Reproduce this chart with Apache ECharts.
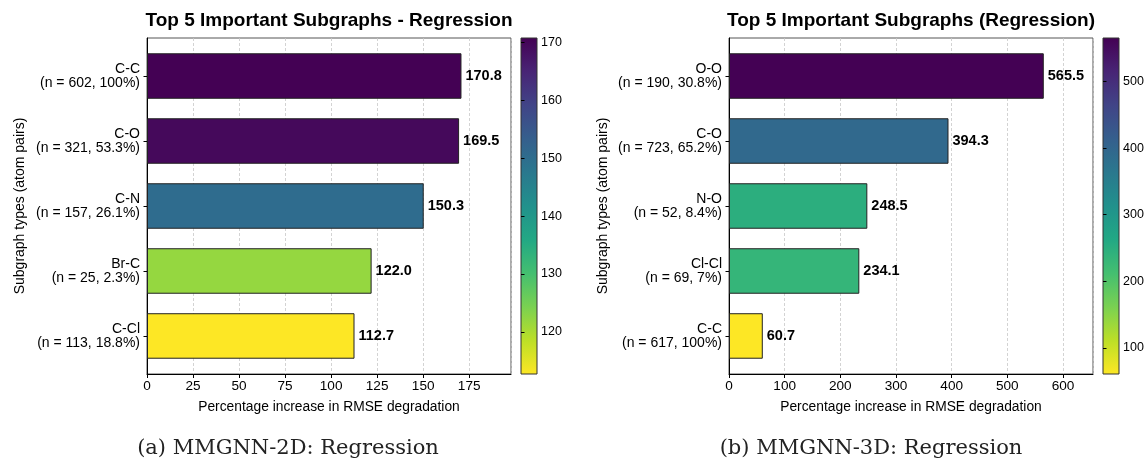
<!DOCTYPE html>
<html><head><meta charset="utf-8">
<script src="https://cdn.jsdelivr.net/npm/echarts@6/dist/echarts.min.js"></script>
<style>html,body{margin:0;padding:0;background:#fff}#c{width:1148px;height:462px}</style>
</head><body><div id="c"></div>
<script>
// ---- data ----
const leftPairs = ['C-C', 'C-O', 'C-N', 'Br-C', 'C-Cl'];
const leftCounts = [602, 321, 157, 25, 113];
const leftPct = ['100%', '53.3%', '26.1%', '2.3%', '18.8%'];
const leftValues = [170.8, 169.5, 150.3, 122.0, 112.7];
const leftXTicks = [0, 25, 50, 75, 100, 125, 150, 175];
const leftCbTicks = [120, 130, 140, 150, 160, 170];

const rightPairs = ['O-O', 'C-O', 'N-O', 'Cl-Cl', 'C-C'];
const rightCounts = [190, 723, 52, 69, 617];
const rightPct = ['30.8%', '65.2%', '8.4%', '7%', '100%'];
const rightValues = [565.5, 394.3, 248.5, 234.1, 60.7];
const rightXTicks = [0, 100, 200, 300, 400, 500, 600];
const rightCbTicks = [100, 200, 300, 400, 500];

const titles = ['Top 5 Important Subgraphs - Regression', 'Top 5 Important Subgraphs (Regression)'];
const captions = ['(a) MMGNN-2D: Regression', '(b) MMGNN-3D: Regression'];
const xTitle = 'Percentage increase in RMSE degradation';
const yTitle = 'Subgraph types (atom pairs)';

// ---- style ----
const FONT = 'Liberation Sans, Arial, Helvetica, sans-serif';
const viridis = ['#440154','#482475','#414487','#355f8d','#2a788e','#21918c','#22a884','#44bf70','#7ad151','#bddf26','#fde725'];
const viridisRev = viridis.slice().reverse();
const grad = {type:'linear', x:0, y:0, x2:0, y2:1,
  colorStops: viridis.map((c, i) => ({offset: i / (viridis.length - 1), color: c}))};

const panels = [
  {pairs: leftPairs, counts: leftCounts, pct: leftPct, values: leftValues, xTicks: leftXTicks, cbTicks: leftCbTicks,
   left: 147, right: 511, xMax: 197.7, cbLeft: 521, nameGap: 120},
  {pairs: rightPairs, counts: rightCounts, pct: rightPct, values: rightValues, xTicks: rightXTicks, cbTicks: rightCbTicks,
   left: 729, right: 1093, xMax: 653.9, cbLeft: 1103, nameGap: 119}
];

const TOP = 38, BOTTOM = 374, W = 1148, H = 462;
const unit = (BOTTOM - TOP) / 5.17;       // pixels per category step
const pad = 0.085 * unit;                 // outer margin beyond bands

const grid = [], xAxis = [], yAxis = [], series = [], visualMap = [];

panels.forEach((p, k) => {
  const g0 = grid.length;
  const interval = p.xTicks[1] - p.xTicks[0];
  grid.push({left: p.left, right: W - p.right, top: TOP, bottom: H - BOTTOM, show: true,
    borderColor: '#555', borderWidth: 1, backgroundColor: 'transparent', outerBoundsMode: 'none'});
  grid.push({left: p.left, right: W - p.right, top: TOP + pad, bottom: H - BOTTOM + pad, show: false, outerBoundsMode: 'none'});
  grid.push({left: p.cbLeft, width: 16, top: TOP, bottom: H - BOTTOM, show: true,
    backgroundColor: grad, borderColor: '#333', borderWidth: 1, outerBoundsMode: 'none'});

  xAxis.push({gridIndex: g0, type: 'value', min: 0, max: p.xMax, interval: interval,
    axisLine: {show: true, lineStyle: {color: '#000', width: 1}},
    axisTick: {show: true, length: 4, lineStyle: {color: '#000', width: 1}},
    axisLabel: {show: true, margin: 5, fontSize: 13.6, color: '#000', fontFamily: FONT, showMaxLabel: false,
      formatter: v => (p.xTicks.indexOf(v) >= 0 ? String(v) : '')},
    splitLine: {show: true, lineStyle: {color: '#c8c8c8', type: [3, 2], width: 0.8}},
    name: xTitle, nameLocation: 'middle', nameGap: 26,
    nameTextStyle: {fontSize: 13.8, color: '#000', fontFamily: FONT}});
  xAxis.push({gridIndex: g0 + 1, type: 'value', min: 0, max: p.xMax, show: false});
  xAxis.push({gridIndex: g0 + 2, type: 'value', min: 0, max: 1, show: false});

  yAxis.push({gridIndex: g0, type: 'value', min: 0, max: 1,
    axisLine: {show: true, lineStyle: {color: '#000', width: 1}},
    axisTick: {show: false}, axisLabel: {show: false}, splitLine: {show: false}});
  const cats = p.pairs.map((s, i) => s + '\n(n = ' + p.counts[i] + ', ' + p.pct[i] + ')');
  yAxis.push({gridIndex: g0 + 1, type: 'category', data: cats, inverse: true,
    axisLine: {show: false},
    axisTick: {show: true, length: 3.5, alignWithLabel: true, lineStyle: {color: '#000', width: 1}},
    axisLabel: {margin: 7, fontSize: 14, lineHeight: 14, color: '#000', fontFamily: FONT, align: 'right'},
    splitLine: {show: false},
    name: yTitle, nameLocation: 'middle', nameGap: p.nameGap, nameRotate: 90,
    nameTextStyle: {fontSize: 14, color: '#000', fontFamily: FONT}});
  const vmin = Math.min.apply(null, p.values), vmax = Math.max.apply(null, p.values);
  yAxis.push({gridIndex: g0 + 2, type: 'value', position: 'right', min: vmin, max: vmax,
    axisLine: {show: false}, splitLine: {show: false},
    axisTick: {show: true, length: 3.5, customValues: p.cbTicks, lineStyle: {color: '#000', width: 1}},
    axisLabel: {show: true, margin: 4, customValues: p.cbTicks, fontSize: 12.5, color: '#000', fontFamily: FONT}});

  series.push({type: 'bar', xAxisIndex: g0 + 1, yAxisIndex: g0 + 1,
    data: p.values.map((v, i) => [v, i]), encode: {x: 0, y: 1},
    barWidth: 0.7 * unit,
    itemStyle: {borderColor: '#222', borderWidth: 1},
    label: {show: true, position: 'right', distance: 4, formatter: q => q.value[0].toFixed(1),
      fontWeight: 'bold', fontSize: 14.5, color: '#000', fontFamily: FONT},
    animation: false});
  visualMap.push({type: 'continuous', show: false, seriesIndex: k, dimension: 0, min: vmin, max: vmax,
    inRange: {color: viridisRev}});
});

const graphic = [];
panels.forEach((p, k) => {
  graphic.push({type: 'text', x: (p.left + p.right) / 2, y: 21, silent: true,
    style: {text: titles[k], fontSize: 19, fontWeight: 'bold', fontFamily: FONT, fill: '#000', align: 'center', verticalAlign: 'middle'}});
});
graphic.push({type: 'text', x: 288, y: 449, silent: true,
  style: {text: captions[0], fontSize: 21, fontFamily: 'DejaVu Serif, Liberation Serif, serif', fill: '#222', align: 'center', verticalAlign: 'middle'}});
graphic.push({type: 'text', x: 871, y: 449, silent: true,
  style: {text: captions[1], fontSize: 21, fontFamily: 'DejaVu Serif, Liberation Serif, serif', fill: '#222', align: 'center', verticalAlign: 'middle'}});

const chart = echarts.init(document.getElementById('c'), null, {renderer: 'canvas'});
chart.setOption({
  backgroundColor: '#fff', animation: false,
  grid, xAxis, yAxis, series, visualMap, graphic
});
</script></body></html>
